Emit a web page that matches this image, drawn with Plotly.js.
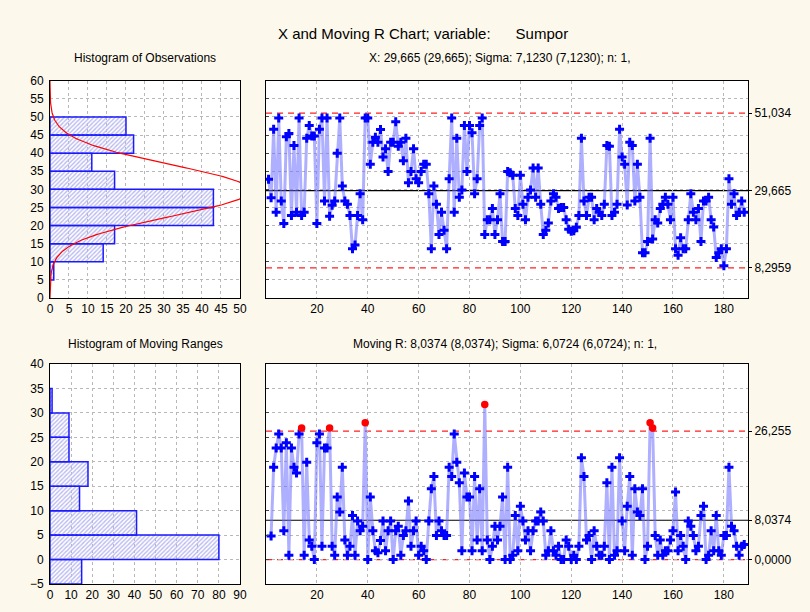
<!DOCTYPE html>
<html>
<head>
<meta charset="utf-8">
<script src="https://cdn.plot.ly/plotly-3.0.1.min.js"></script>
<style>
html,body{margin:0;padding:0;background:#fdf8ec;}
#chart{width:810px;height:612px;}
</style>
</head>
<body>
<div id="chart"></div>
<script>
// ---------- data ----------
const xValues = [
32.8, 27.7, 46.6, 23.7, 49.7, 26.8, 20.6, 44.5, 45.4, 22.8,
42.1, 23.7, 49.7, 22.8, 23.7, 44.1, 47.6, 44.7, 44.7, 20.6,
46.6, 49.7, 26.8, 49.7, 22.6, 25.6, 26.8, 40.0, 49.7, 30.9,
26.8, 25.9, 22.8, 13.6, 14.6, 22.8, 28.8, 21.6, 49.7, 49.7,
36.9, 43.0, 44.4, 43.0, 46.5, 38.9, 41.2, 34.9, 43.0, 43.0,
48.7, 41.9, 43.0, 37.9, 44.1, 31.8, 34.9, 41.2, 32.9, 31.8,
34.9, 36.9, 36.9, 28.8, 13.6, 30.9, 25.9, 17.5, 23.7, 18.7,
13.6, 32.9, 49.7, 23.7, 44.1, 27.8, 29.8, 47.6, 34.9, 47.6,
45.6, 28.8, 32.9, 47.6, 49.7, 17.5, 21.6, 21.6, 24.7, 17.5,
21.6, 28.8, 15.6, 15.6, 34.9, 34.6, 33.9, 24.7, 22.8, 33.9,
25.9, 21.6, 27.8, 29.8, 35.9, 27.8, 35.9, 25.9, 17.5, 18.7,
20.7, 26.8, 28.8, 27.8, 24.7, 25.0, 25.0, 21.6, 19.0, 18.4,
18.6, 19.5, 22.8, 44.1, 26.8, 22.8, 27.8, 27.8, 21.6, 24.7,
23.7, 22.8, 25.9, 42.1, 41.9, 22.8, 23.7, 25.9, 46.6, 38.9,
36.9, 25.7, 43.0, 42.1, 26.8, 36.9, 27.8, 12.5, 12.5, 15.6,
44.1, 16.3, 21.6, 20.7, 24.7, 25.9, 27.8, 25.9, 21.6, 27.8,
13.6, 11.8, 16.6, 13.6, 13.6, 21.6, 28.8, 23.7, 21.6, 24.7,
15.6, 26.8, 26.8, 27.8, 21.6, 19.6, 11.2, 12.5, 13.6, 8.9,
13.6, 32.9, 25.9, 28.8, 22.8, 23.7, 26.8, 23.7
];

// moving ranges for samples 2..188
const mrValues = [
4.8, 18.9, 22.8, 25.7, 22.8, 5.9, 23.9, 0.9, 22.8, 18.9,
17.7, 25.7, 26.9, 0.9, 19.9, 4.0, 2.7, 0.0, 23.9, 25.7,
2.7, 22.8, 22.8, 26.9, 2.7, 0.9, 12.8, 9.7, 18.9, 4.0,
0.9, 2.7, 9.0, 0.9, 7.9, 5.9, 6.8, 28.0, 0.0, 12.8,
5.9, 1.8, 1.4, 3.9, 7.9, 1.8, 5.9, 7.9, 0.0, 5.9,
6.8, 0.9, 4.9, 5.9, 12.0, 2.7, 5.9, 7.9, 0.9, 2.7,
1.8, 0.0, 7.9, 14.5, 17.0, 4.9, 7.9, 5.9, 4.9, 4.9,
18.9, 17.0, 25.7, 19.9, 15.7, 1.8, 17.7, 12.8, 12.8, 1.8,
17.0, 4.0, 14.5, 1.8, 31.7, 4.0, 0.0, 2.7, 6.8, 4.0,
6.8, 12.8, 0.0, 18.9, 0.0, 0.9, 9.0, 1.8, 10.9, 7.9,
4.0, 5.9, 1.8, 5.9, 7.9, 7.9, 9.7, 7.9, 0.9, 1.8,
5.9, 1.8, 0.9, 2.7, 0.0, 0.0, 4.0, 2.7, 0.0, 0.9,
0.0, 2.7, 20.8, 17.0, 4.0, 4.9, 0.0, 5.9, 2.7, 0.9,
0.9, 2.7, 15.7, 0.0, 18.9, 0.9, 1.8, 20.8, 7.9, 1.8,
10.9, 17.0, 0.9, 14.5, 9.7, 9.0, 14.5, 0.0, 2.7, 28.0,
26.9, 4.9, 0.9, 4.0, 0.9, 1.8, 1.8, 4.0, 5.9, 13.8,
1.8, 4.9, 2.7, 0.0, 7.9, 6.8, 4.9, 1.8, 2.7, 9.0,
10.9, 0.0, 0.9, 5.9, 1.8, 9.0, 1.8, 0.9, 4.9, 4.9,
18.9, 6.8, 5.9, 2.7, 0.9, 2.7, 3.1
];

const obsBinLow = [5, 10, 15, 20, 25, 30, 35, 40, 45];
const obsCounts = [1, 14, 17, 43, 43, 17, 11, 22, 20];
const mrBinLow = [-5, 0, 5, 10, 15, 20, 25, 30];
const mrCounts = [15, 80, 41, 14, 18, 9, 9, 1];
const binWidth = 5;

const xLimits = [51.034, 29.665, 8.2959];      // UCL, CL, LCL
const xLimitLabels = ["51,034", "29,665", "8,2959"];
const rLimits = [26.255, 8.0374, 0.0];
const rLimitLabels = ["26,255", "8,0374", "0,0000"];
const xMean = 29.665, xSigma = 7.1230;

const xTickVals = [20, 40, 60, 80, 100, 120, 140, 160, 180];

// ---------- derived ----------
const nObs = xValues.length;
const sampleIdx = xValues.map((_, i) => i + 1);
const mrIdx = mrValues.map((_, i) => i + 2);
const obsCenters = obsBinLow.map(v => v + binWidth / 2);
const mrCenters = mrBinLow.map(v => v + binWidth / 2);

// fitted normal curve (expected count per bin)
const curveY = [], curveX = [];
for (let k = 0; k <= 240; k++) {
  const y = k * 0.25;
  const z = (y - xMean) / xSigma;
  curveY.push(y);
  curveX.push(nObs * binWidth * Math.exp(-0.5 * z * z) / (xSigma * Math.sqrt(2 * Math.PI)));
}

const mrUCL = rLimits[0];
const mrColors = mrValues.map(v => v > mrUCL ? '#ff0000' : '#0000ff');
const mrSymbols = mrValues.map(v => v > mrUCL ? 'circle' : 'cross');

// ---------- styling ----------
const FONT = 'Liberation Sans, Arial, sans-serif';
const gridCol = '#b8b8b8';
const barMarker = {
  color: '#cdcdfc',
  line: {color: '#1a1aff', width: 1.5},
  pattern: {shape: '/', fgcolor: '#babaf2', size: 3, solidity: 0.45}
};
const lineCol = 'rgba(110,110,255,0.55)';

const baseAxis = {
  showline: true, mirror: true, linecolor: '#000', linewidth: 1,
  showgrid: true, gridcolor: gridCol, griddash: 'dot', gridwidth: 1,
  zeroline: false, ticks: '', tickfont: {size: 12, color: '#000', family: FONT}
};

const dTop = [0.5131, 0.8681];
const dBot = [0.0458, 0.4052];
const dLeft = [0.0617, 0.2963];
const dRight = [0.3284, 0.9235];

const traces = [
  {type: 'bar', orientation: 'h', x: obsCounts, y: obsCenters, width: binWidth,
   marker: barMarker, xaxis: 'x', yaxis: 'y', hoverinfo: 'skip'},
  {type: 'scatter', mode: 'lines', x: curveX, y: curveY,
   line: {color: '#ff0000', width: 1.2}, xaxis: 'x', yaxis: 'y', hoverinfo: 'skip'},
  {type: 'scatter', mode: 'lines+markers', x: sampleIdx, y: xValues,
   line: {color: lineCol, width: 3},
   marker: {symbol: 'cross', size: 7.5, color: '#0000ff', line: {width: 0}},
   xaxis: 'x2', yaxis: 'y2', hoverinfo: 'skip'},
  {type: 'scatter', mode: 'none', x: [1], y: [30], xaxis: 'x2', yaxis: 'y3', hoverinfo: 'skip'},
  {type: 'bar', orientation: 'h', x: mrCounts, y: mrCenters, width: binWidth,
   marker: barMarker, xaxis: 'x3', yaxis: 'y4', hoverinfo: 'skip'},
  {type: 'scatter', mode: 'lines+markers', x: mrIdx, y: mrValues,
   line: {color: lineCol, width: 3},
   marker: {symbol: mrSymbols, size: 7.5, color: mrColors, line: {width: 0}},
   xaxis: 'x4', yaxis: 'y5', hoverinfo: 'skip'},
  {type: 'scatter', mode: 'none', x: [1], y: [5], xaxis: 'x4', yaxis: 'y6', hoverinfo: 'skip'}
];

function limitShapes(limits, xref, yref) {
  return limits.map((v, i) => ({
    type: 'line', xref: xref + ' domain', yref: yref, x0: 0, x1: 1, y0: v, y1: v,
    layer: 'below',
    line: i === 1 ? {color: '#000000', width: 1.2} : {color: '#ff2020', width: 1.2, dash: '6px,5px'}
  }));
}

const layout = {
  width: 810, height: 612,
  margin: {l: 0, r: 0, t: 0, b: 0},
  paper_bgcolor: '#fdf8ec', plot_bgcolor: '#ffffff',
  showlegend: false,
  font: {family: FONT, size: 12, color: '#000'},
  xaxis: Object.assign({}, baseAxis, {domain: dLeft, anchor: 'y', range: [0, 50], dtick: 5, tick0: 0}),
  yaxis: Object.assign({}, baseAxis, {domain: dTop, anchor: 'x', range: [0, 60], dtick: 5, tick0: 0, ticklabelstandoff: 3}),
  xaxis2: Object.assign({}, baseAxis, {domain: dRight, anchor: 'y2', range: [0, 189.5], tickmode: 'array', tickvals: xTickVals}),
  yaxis2: Object.assign({}, baseAxis, {domain: dTop, anchor: 'x2', range: [0, 60], dtick: 5, tick0: 0, showticklabels: false, ticks: 'inside', ticklen: 3, tickcolor: '#444'}),
  yaxis3: {overlaying: 'y2', side: 'right', anchor: 'x2', range: [0, 60], showgrid: false, zeroline: false, showline: false,
           tickmode: 'array', tickvals: xLimits, ticktext: xLimitLabels, ticks: 'outside', ticklen: 3, tickcolor: '#000',
           tickfont: {size: 12, color: '#000', family: FONT}},
  xaxis3: Object.assign({}, baseAxis, {domain: dLeft, anchor: 'y4', range: [0, 90], dtick: 10, tick0: 0}),
  yaxis4: Object.assign({}, baseAxis, {domain: dBot, anchor: 'x3', range: [-5, 40], dtick: 5, tick0: -5, ticklabelstandoff: 3}),
  xaxis4: Object.assign({}, baseAxis, {domain: dRight, anchor: 'y5', range: [0, 189.5], tickmode: 'array', tickvals: xTickVals}),
  yaxis5: Object.assign({}, baseAxis, {domain: dBot, anchor: 'x4', range: [-5, 40], dtick: 5, tick0: -5, showticklabels: false, ticks: 'inside', ticklen: 3, tickcolor: '#444'}),
  yaxis6: {overlaying: 'y5', side: 'right', anchor: 'x4', range: [-5, 40], showgrid: false, zeroline: false, showline: false,
           tickmode: 'array', tickvals: rLimits, ticktext: rLimitLabels, ticks: 'outside', ticklen: 3, tickcolor: '#000',
           tickfont: {size: 12, color: '#000', family: FONT}},
  shapes: limitShapes(xLimits, 'x2', 'y2').concat(limitShapes(rLimits, 'x4', 'y5')),
  annotations: [
    {text: 'X and Moving R Chart; variable:\u00a0\u00a0\u00a0\u00a0\u00a0 Sumpor', xref: 'paper', yref: 'paper',
     x: 423 / 810, y: 1 - 33 / 612, xanchor: 'center', yanchor: 'middle', showarrow: false, font: {size: 15}},
    {text: 'X: 29,665 (29,665); Sigma: 7,1230 (7,1230); n: 1,', xref: 'paper', yref: 'paper',
     x: 500 / 810, y: 1 - 58 / 612, xanchor: 'center', yanchor: 'middle', showarrow: false, font: {size: 12}},
    {text: 'Histogram of Observations', xref: 'paper', yref: 'paper',
     x: 145 / 810, y: 1 - 58 / 612, xanchor: 'center', yanchor: 'middle', showarrow: false, font: {size: 12}},
    {text: 'Moving R: 8,0374 (8,0374); Sigma: 6,0724 (6,0724); n: 1,', xref: 'paper', yref: 'paper',
     x: 505 / 810, y: 1 - 344 / 612, xanchor: 'center', yanchor: 'middle', showarrow: false, font: {size: 12}},
    {text: 'Histogram of Moving Ranges', xref: 'paper', yref: 'paper',
     x: 145 / 810, y: 1 - 344 / 612, xanchor: 'center', yanchor: 'middle', showarrow: false, font: {size: 12}}
  ]
};

Plotly.newPlot('chart', traces, layout, {staticPlot: true, displayModeBar: false});
</script>
</body>
</html>
